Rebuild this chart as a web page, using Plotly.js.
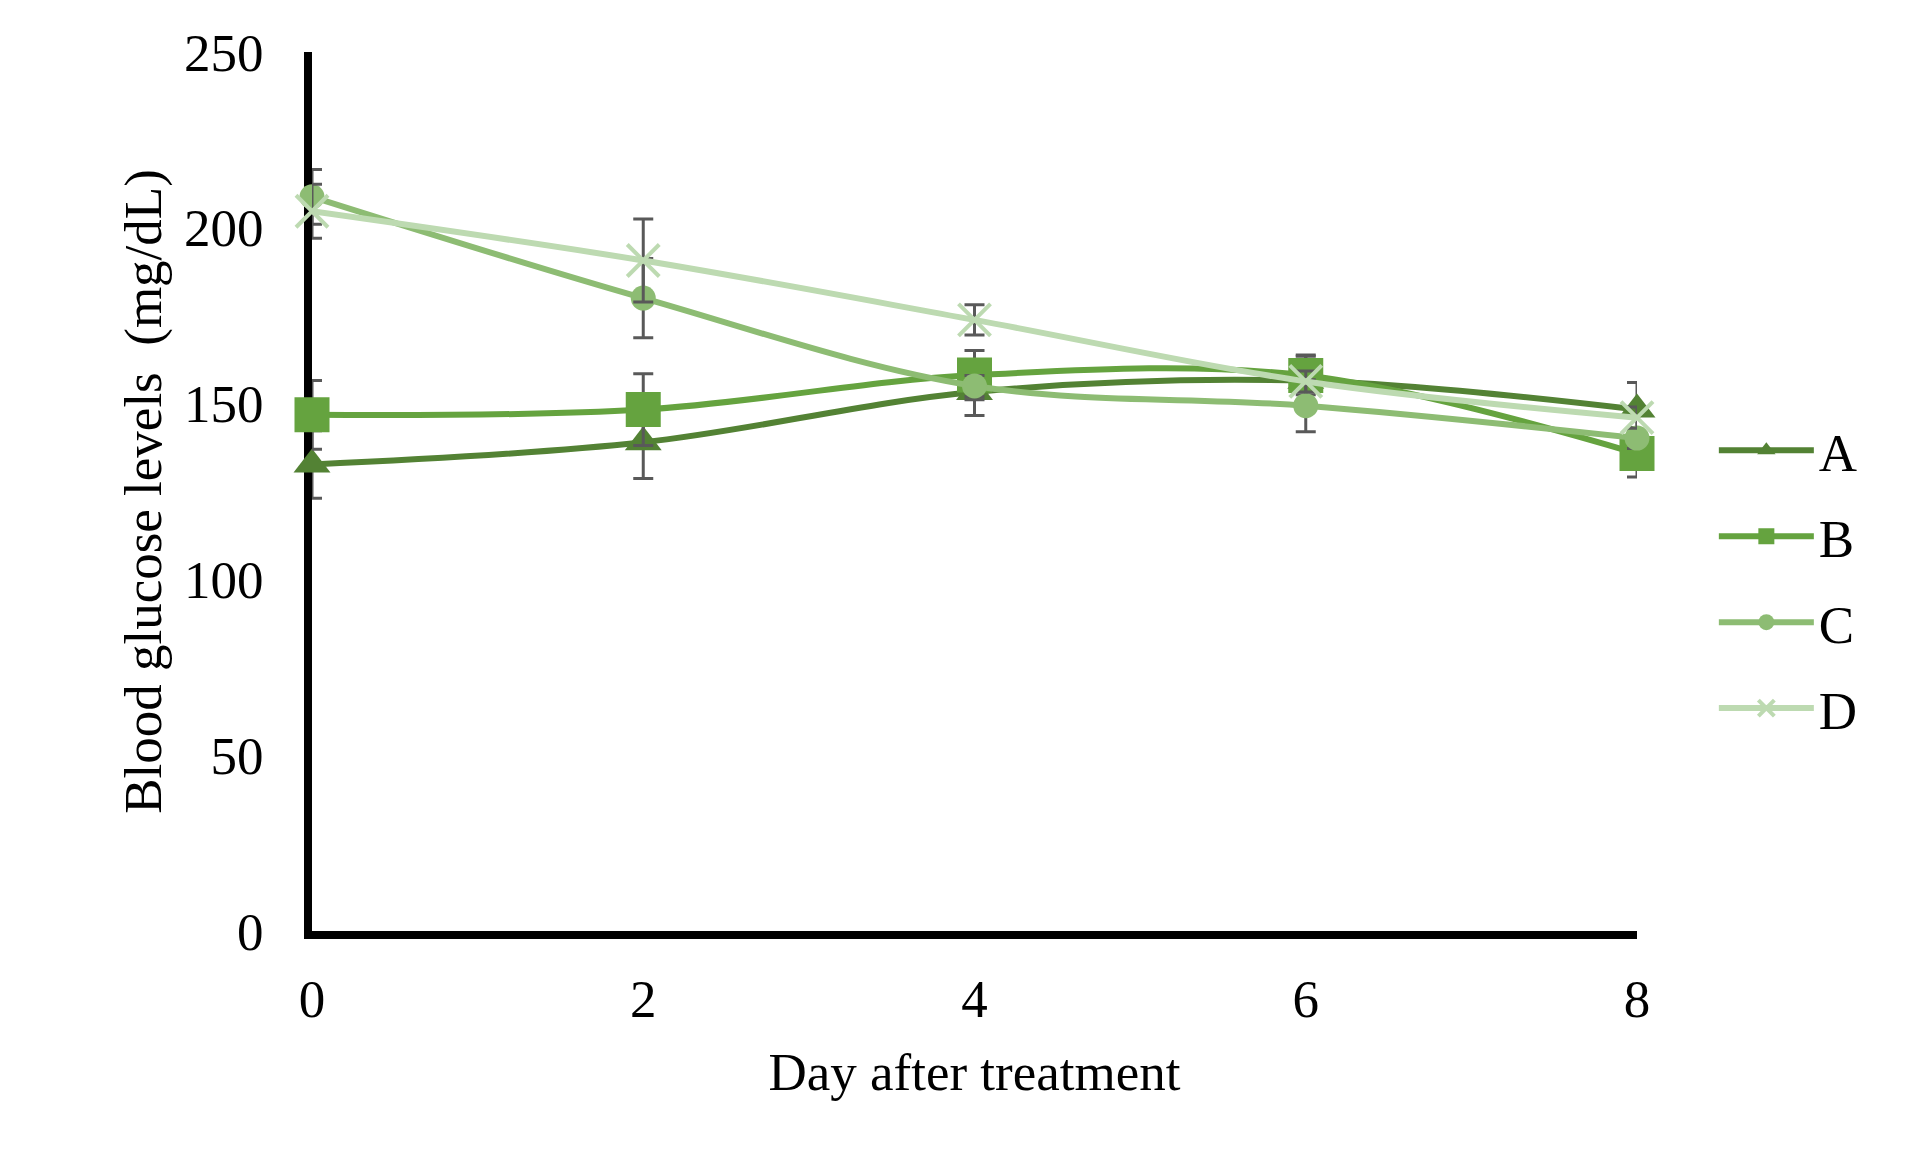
<!DOCTYPE html>
<html>
<head>
<meta charset="utf-8">
<script src="https://cdn.plot.ly/plotly-3.0.1.min.js"></script>
<style>html,body{margin:0;padding:0;background:#fff;}#chart{width:1913px;height:1149px;}</style>
</head>
<body>
<div id="chart"></div>
<script>
var days = [0, 2, 4, 6, 8];
var seriesNames = ["A", "B", "C", "D"];
var valuesA = [132.7, 139.0, 153.3, 156.5, 148.3];
var valuesB = [146.8, 148.3, 158.1, 158.0, 135.8];
var valuesC = [208.8, 180.0, 155.0, 149.4, 140.2];
var valuesD = [204.7, 190.7, 173.8, 156.3, 146.0];
var errA = [9.6, 10.3, 6.7, 7.3, 7.7];
var errB = [9.8, 10.2, 7.0, 5.5, 6.7];
var errC = [7.8, 11.3, 3.0, 7.4, 3.0];
var errD = [7.7, 11.8, 4.3, 3.0, 3.0];
var yTicks = [0, 50, 100, 150, 200, 250];
var xTicks = [0, 2, 4, 6, 8];

var FONT = "Liberation Serif, Times New Roman, serif";
var colors = ["#538234", "#65a33f", "#8dbc73", "#bddab1"];
var symbols = ["triangle-up", "square", "circle", "x-thin"];
var sizes = [32, 35, 25, 32];
var vals = [valuesA, valuesB, valuesC, valuesD];
var errs = [errA, errB, errC, errD];

var traces = seriesNames.map(function (n, i) {
  var marker = {symbol: symbols[i], size: sizes[i], color: colors[i]};
  if (symbols[i] === "x-thin") {
    marker.line = {color: colors[i], width: 4};
  } else {
    marker.line = {width: 0};
  }
  return {
    type: "scatter",
    mode: "lines+markers",
    name: n,
    legendgroup: n,
    x: days,
    y: vals[i],
    line: {color: colors[i], width: 6, shape: "spline", smoothing: 1},
    marker: marker,
    error_y: {type: "data", array: errs[i], visible: true, color: "#595959", thickness: 3, width: 10},
    cliponaxis: false
  };
});

var layout = {
  width: 1913,
  height: 1149,
  paper_bgcolor: "#ffffff",
  plot_bgcolor: "#ffffff",
  margin: {l: 312, r: 276, t: 52, b: 218},
  font: {family: FONT, size: 53, color: "#000000"},
  showlegend: true,
  legend: {
    x: 1.058, xanchor: "left",
    y: 0.40, yanchor: "middle",
    font: {family: FONT, size: 53, color: "#000000"},
    itemwidth: 95,
    tracegroupgap: 14,
    traceorder: "grouped",
    bgcolor: "rgba(0,0,0,0)"
  },
  xaxis: {
    range: [0, 8],
    tickvals: xTicks,
    ticktext: xTicks.map(String),
    showgrid: false,
    zeroline: false,
    showline: true,
    linecolor: "#000000",
    linewidth: 8,
    layer: "below traces",
    ticks: "outside",
    ticklen: 14,
    tickcolor: "rgba(0,0,0,0)",
    tickfont: {family: FONT, size: 53, color: "#000000"},
    title: {text: "Day after treatment", font: {family: FONT, size: 53, color: "#000000"}, standoff: 29}
  },
  yaxis: {
    range: [0, 250],
    tickvals: yTicks,
    ticktext: yTicks.map(String),
    showgrid: false,
    zeroline: false,
    showline: true,
    linecolor: "#000000",
    linewidth: 8,
    layer: "below traces",
    ticks: "outside",
    ticklen: 30,
    tickcolor: "rgba(0,0,0,0)",
    tickfont: {family: FONT, size: 53, color: "#000000"},
    title: {text: "Blood glucose levels\u00A0\u00A0(mg/dL)", font: {family: FONT, size: 53, color: "#000000"}, standoff: 8}
  }
};

Plotly.newPlot("chart", traces, layout, {displayModeBar: false, staticPlot: true});
</script>
</body>
</html>
